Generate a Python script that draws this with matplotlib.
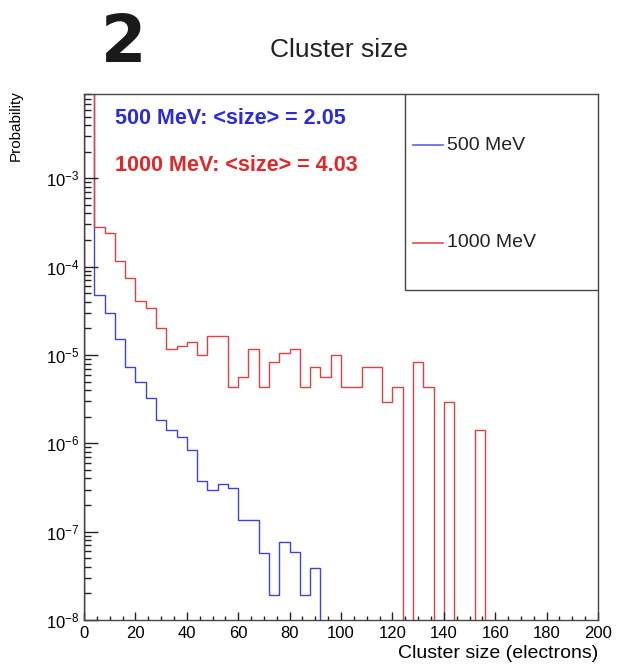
import matplotlib
matplotlib.use('Agg')
import matplotlib.pyplot as plt
import numpy as np
from matplotlib.patches import Rectangle
from matplotlib.lines import Line2D
from matplotlib.ticker import MultipleLocator, LogLocator

plt.rcParams['font.family'] = ['Liberation Sans', 'DejaVu Sans']

# histogram binning (cluster size, electrons)
edges = np.arange(0, 204, 4)

# probability per bin (first bin runs off the top)
p500 = [0.99, 4.8e-5, 3.0e-5, 1.5e-5, 7.4e-6, 4.9e-6, 3.3e-6, 1.85e-6, 1.43e-6,
        1.19e-6, 8.5e-7, 3.7e-7, 3.0e-7, 3.5e-7, 3.1e-7, 1.36e-7, 1.36e-7,
        5.8e-8, 1.9e-8, 7.7e-8, 5.9e-8, 1.9e-8, 3.9e-8]
p1000 = [0.99, 2.8e-4, 2.4e-4, 1.15e-4, 7.4e-5, 4.1e-5, 3.4e-5, 2.0e-5, 1.18e-5,
         1.28e-5, 1.42e-5, 9.9e-6, 1.62e-5, 1.62e-5, 4.3e-6, 5.7e-6, 1.18e-5,
         4.3e-6, 8.4e-6, 1.06e-5, 1.18e-5, 4.3e-6, 7.4e-6, 5.7e-6, 1.01e-5,
         4.3e-6, 4.3e-6, 7.4e-6, 7.4e-6, 2.9e-6, 4.3e-6, 0, 8.4e-6, 4.3e-6, 0,
         2.9e-6, 0, 0, 1.43e-6]

nbins = len(edges) - 1
h500 = np.zeros(nbins)
h500[:len(p500)] = p500
h1000 = np.zeros(nbins)
h1000[:len(p1000)] = p1000

labels = ['500 MeV', '1000 MeV']
means = [2.05, 4.03]
c_blue = '#2b2bd8'
c_red = '#e02828'

fig = plt.figure(figsize=(6.2, 6.68), dpi=100)
ax = fig.add_axes([84 / 620, 48 / 668, 514 / 620, 526 / 668])

ax.stairs(h500, edges, color='#4040dd', lw=1.0, baseline=0)
ax.stairs(h1000, edges, color='#e04040', lw=1.0, baseline=0)

ax.set_yscale('log')
ax.set_xlim(0, 200)
ax.set_ylim(1e-8, 9e-3)

ax.xaxis.set_major_locator(MultipleLocator(20))
ax.xaxis.set_minor_locator(MultipleLocator(5))
ax.yaxis.set_major_locator(LogLocator(base=10))
ax.yaxis.set_minor_locator(LogLocator(base=10, subs=np.arange(2, 10)))
ax.tick_params(which='both', direction='in', top=False, right=False,
               labelsize=12, color='#222222')
ax.xaxis.set_tick_params(which='major', length=6, width=1, pad=4)
ax.xaxis.set_tick_params(which='minor', length=3, width=1)
ax.yaxis.set_tick_params(which='major', length=10, width=1)
ax.yaxis.set_tick_params(which='minor', length=5, width=1)
for s in ax.spines.values():
    s.set_color('#444444')
    s.set_linewidth(1.0)

ax.set_xlabel('Cluster size (electrons)', loc='right', fontsize=14, labelpad=3)
fig.text(0.025, (668 - 90) / 668, 'Probability', rotation=90, ha='center',
         va='top', fontsize=11)

# mean size annotations
ax.text(0.060, 0.954, f'{labels[0]}: <size> = {means[0]:.2f}', color=c_blue,
        fontsize=15.5, fontweight='bold', transform=ax.transAxes, va='center')
ax.text(0.060, 0.865, f'{labels[1]}: <size> = {means[1]:.2f}', color=c_red,
        fontsize=15.5, fontweight='bold', transform=ax.transAxes, va='center')

# legend box (ROOT style)
ax.add_patch(Rectangle((0.6245, 0.627), 1 - 0.6245, 1 - 0.627, transform=ax.transAxes,
                       facecolor='white', edgecolor='#444444', lw=1.0, zorder=5))
for yy, lab, col in [(0.903, labels[0], '#6060e8'), (0.717, labels[1], '#e05050')]:
    ax.add_line(Line2D([0.640, 0.698], [yy, yy], color=col, lw=1.2,
                       transform=ax.transAxes, zorder=6))
    ax.text(0.706, yy, lab, fontsize=14, va='center', transform=ax.transAxes,
            zorder=6, color='#222222')

fig.text(0.547, 0.925, 'Cluster size', ha='center', va='center', fontsize=19,
         color='#222222')
fig.text(0.2, 0.934, '2', ha='center', va='center', fontsize=47,
         fontweight='bold', family=['DejaVu Sans'], color='#1a1a1a')

fig.savefig('out.png', dpi=100)
